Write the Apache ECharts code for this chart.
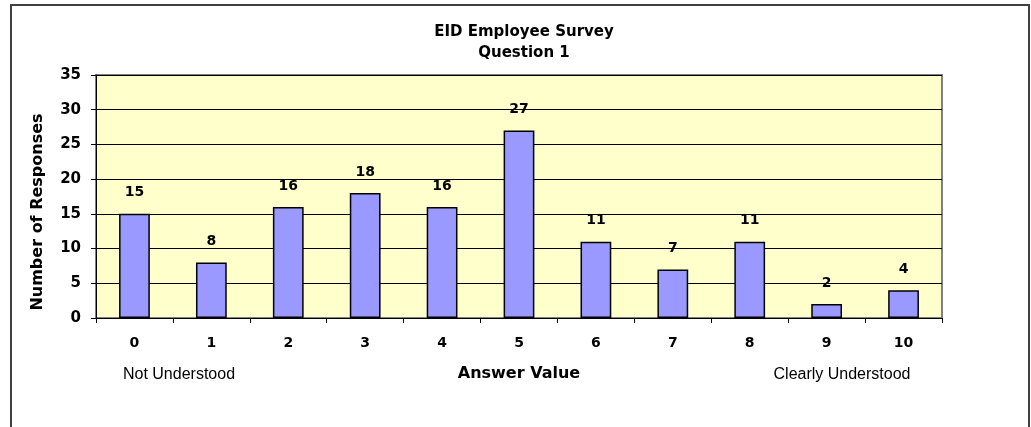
<!DOCTYPE html>
<html>
<head>
<meta charset="utf-8">
<script src="https://cdn.jsdelivr.net/npm/echarts@6/dist/echarts.min.js"></script>
<style>
  html, body { margin: 0; padding: 0; background: #fff; }
  #chart { width: 1031px; height: 427px; }
</style>
</head>
<body>
<div id="chart"></div>
<script>
// 数据
const categories = ['0', '1', '2', '3', '4', '5', '6', '7', '8', '9', '10']
const responses = [15, 8, 16, 18, 16, 27, 11, 7, 11, 2, 4]
const yTicks = { min: 0, max: 35, interval: 5 }

// 粗体用 DejaVu（字距更宽，接近原图），常规用 Arial
const bold = '"DejaVu Sans", sans-serif'
const font = 'Arial, "Liberation Sans", sans-serif'

let myChart = echarts.init(document.getElementById('chart'))

let option = {
  animation: false,
  backgroundColor: '#fff',
  title: {
    text: 'EID Employee Survey\nQuestion 1',
    left: 519,
    textAlign: 'center',
    top: 17,
    textStyle: {
      fontFamily: bold,
      fontSize: 15,
      fontWeight: 'bold',
      color: '#000',
      lineHeight: 21
    }
  },
  grid: {
    left: 96,
    top: 75,
    right: 89,
    bottom: 109,
    show: true,
    backgroundColor: '#FFFFCC',
    borderColor: '#808080',
    borderWidth: 2
  },
  xAxis: {
    type: 'category',
    data: categories,
    name: 'Answer Value',
    nameLocation: 'middle',
    nameGap: 48,
    nameTextStyle: { fontFamily: bold, fontSize: 16, fontWeight: 'bold', color: '#000' },
    axisLine: { lineStyle: { color: '#000', width: 1 } },
    axisTick: { show: true, length: 5, inside: false, lineStyle: { color: '#000' } },
    axisLabel: { margin: 18, fontFamily: bold, fontSize: 14, fontWeight: 'bold', color: '#000' }
  },
  yAxis: {
    type: 'value',
    min: yTicks.min,
    max: yTicks.max,
    interval: yTicks.interval,
    axisLine: { show: true, lineStyle: { color: '#000', width: 1 } },
    axisTick: { show: true, length: 5, lineStyle: { color: '#000' } },
    axisLabel: { margin: 15, fontFamily: bold, fontSize: 15, fontWeight: 'bold', color: '#000' },
    splitLine: { show: true, lineStyle: { color: '#000', width: 1 } }
  },
  series: [{
    type: 'bar',
    data: responses,
    barWidth: '40%',
    itemStyle: { color: '#9999FF', borderColor: '#000', borderWidth: 1.5 },
    label: {
      show: true,
      position: 'top',
      distance: 14,
      fontFamily: bold,
      fontSize: 14,
      fontWeight: 'bold',
      color: '#000'
    }
  }],
  graphic: [
    {
      type: 'rect',
      shape: { x: 11, y: 5, width: 1018, height: 440 },
      style: { fill: 'none', stroke: '#404040', lineWidth: 2 },
      silent: true
    },
    {
      type: 'text',
      x: 38, y: 212,
      rotation: Math.PI / 2,
      style: { text: 'Number of Responses', fontFamily: bold, fontSize: 16, fontWeight: 'bold', fill: '#000', align: 'center', verticalAlign: 'middle' }
    },
    {
      type: 'text',
      x: 179, y: 375,
      style: { text: 'Not Understood', fontFamily: font, fontSize: 16, fill: '#000', align: 'center', verticalAlign: 'middle' }
    },
    {
      type: 'text',
      x: 842, y: 375,
      style: { text: 'Clearly Understood', fontFamily: font, fontSize: 16, fill: '#000', align: 'center', verticalAlign: 'middle' }
    }
  ]
}

myChart.setOption(option)
window.addEventListener('resize', () => { myChart.resize() })
</script>
</body>
</html>
